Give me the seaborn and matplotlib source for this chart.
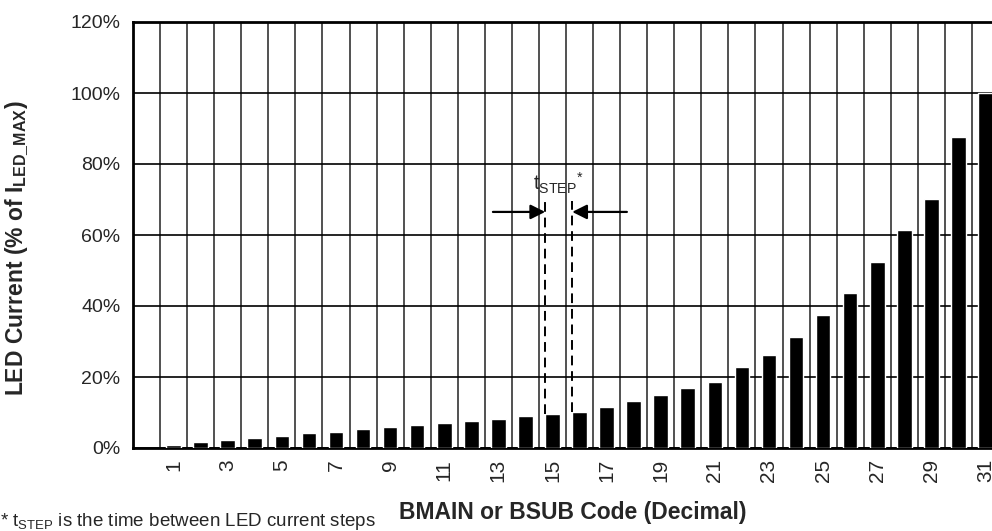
import numpy as np
import seaborn as sns
import matplotlib.pyplot as plt

# LED current per brightness code, % of I_LED_MAX
codes = list(range(1, 32))
current_pct = [0.9, 1.7, 2.3, 2.9, 3.5, 4.2, 4.6, 5.4, 5.8, 6.4,
               7.1, 7.7, 8.3, 8.9, 9.7, 10.2, 11.5, 13.1, 15.0, 17.0,
               18.6, 22.8, 26.3, 31.4, 37.6, 43.8, 52.3, 61.4, 70.1, 87.5,
               100.0]
x_tick_codes = list(range(1, 32, 2))
y_ticks = [0, 20, 40, 60, 80, 100, 120]

sns.set_style('white')
plt.rcParams['font.family'] = ['Liberation Sans', 'DejaVu Sans']
plt.rcParams['mathtext.fontset'] = 'custom'
plt.rcParams['mathtext.rm'] = 'Liberation Sans'
plt.rcParams['mathtext.bf'] = 'Liberation Sans:bold'

fig = plt.figure(figsize=(9.92, 5.31), dpi=100)
ax = fig.add_axes([133 / 992, 1 - 448 / 531, 866 / 992, 426 / 531])

bar_w = 0.54
sns.barplot(x=codes, y=current_pct, native_scale=True, color='black',
            saturation=1, width=bar_w, ax=ax, zorder=3)

ax.set_xlim(-0.5, 31.5)
ax.set_ylim(0, 120)
ax.set_xticks(x_tick_codes)
ax.set_xticklabels([str(c) for c in x_tick_codes], rotation=90, fontsize=15)
ax.set_xticks(np.arange(0.5, 32, 1), minor=True)
ax.set_yticks(y_ticks)
ax.set_yticklabels([f'{v}%' for v in y_ticks], fontsize=14)
ax.tick_params(axis='both', which='both', length=0)
ax.tick_params(axis='x', pad=8)
ax.tick_params(axis='y', pad=9)

ax.set_axisbelow(True)
ax.grid(axis='y', which='major', color='black', lw=1.2)
ax.grid(axis='x', which='minor', color='#222222', lw=1.1)
ax.grid(axis='x', which='major', visible=False)
for side in ['left', 'bottom', 'top', 'right']:
    ax.spines[side].set_color('black')
    ax.spines[side].set_linewidth(2)

ax.set_xlabel('BMAIN or BSUB Code (Decimal)', fontsize=16.5, fontweight='bold')
ax.set_ylabel(r'LED Current (% of I$_{\mathbf{LED\_MAX}}$)', fontsize=16.5,
              fontweight='bold')
ax.xaxis.set_label_coords(0.508, -0.125)
ax.yaxis.set_label_coords(-0.118, 0.47)

# t_STEP annotation between codes 15 and 16
i15 = codes.index(15)
i16 = codes.index(16)
x_l = codes[i15] - bar_w / 2
x_r = codes[i16] - bar_w / 2
ax.plot([x_l, x_l], [current_pct[i15], 70.5], color='black', lw=1.4,
        dashes=(5, 3), zorder=4)
ax.plot([x_r, x_r], [current_pct[i16], 69.5], color='black', lw=1.4,
        dashes=(5, 3), zorder=4)
arrow = dict(arrowstyle='-|>', color='black', lw=1.6, mutation_scale=22,
             shrinkA=0, shrinkB=0)
ax.annotate('', xy=(x_l, 66.5), xytext=(12.8, 66.5), arrowprops=arrow, zorder=5)
ax.annotate('', xy=(x_r, 66.5), xytext=(17.75, 66.5), arrowprops=arrow, zorder=5)
ax.text(15.2, 71.0, r't$_{\mathrm{STEP}}$$^{*}$', fontsize=14.5, ha='center',
        va='bottom', zorder=5)

fig.text(0.0, 0.009, r'* t$_{\mathrm{STEP}}$ is the time between LED current steps',
         fontsize=13.5, ha='left', va='baseline')

fig.savefig('out.png', dpi=100)
